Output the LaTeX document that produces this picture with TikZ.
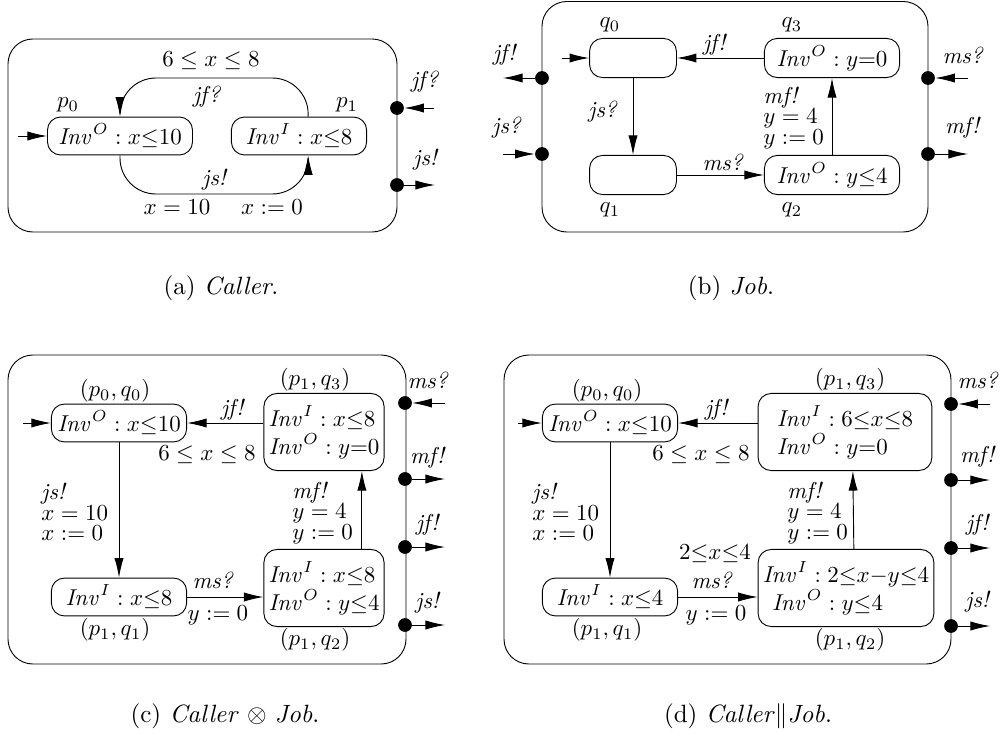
\documentclass[tikz,border=0pt]{standalone}
\usepackage{amssymb}
\usepackage{amsmath}
\usetikzlibrary{arrows.meta}

\begin{document}
\begin{tikzpicture}[x=.0153cm, y=-.0153cm, >={Latex[length=8.5pt,width=4pt]},
location/.style={draw, rounded corners=.2cm, minimum width=2.07cm, minimum height=.58cm, inner sep=1pt},
bigloc/.style={location, minimum height=1.18cm, align=left},
port/.style={inner sep=0, minimum size=.21cm, fill=black, circle},
trans/.style={->},
automaton/.style={rounded corners=.38cm},
lbl/.style={inner sep=0pt},
stack/.style={lbl, anchor=west, align=left},
caption/.style={font=\fontsize{10.9}{13}\selectfont}]
\useasboundingbox (0,0) rectangle (1003,734);

% (a) Caller
\draw[automaton] (8,39) rectangle (397,232);
\node[location, minimum width=2.22cm] (p0) at (120,136) {$\mathit{Inv}^O : x{\leq}10$};
\node[location] (p1) at (299,136) {$\mathit{Inv}^I : x{\leq}8$};
\node[lbl] at (68,105) {$p_0$};
\node[lbl] at (347,105) {$p_1$};
\coordinate (pi) at (18,136);
\coordinate (pt) at (211,78);
\coordinate (pb) at (211,194);
\draw[trans] (pi) -- (p0);
\draw[trans, rounded corners=.55cm] ([xshift=.14cm]p1.north) |- (pt) -| (p0.north);
\draw[trans, rounded corners=.55cm] (p0.south) |- (pb) -| ([xshift=.14cm]p1.south);
\node[lbl] at (211,61) {$6 \leq x \leq 8$};
\node[lbl] at (207,97) {\textit{jf?}};
\node[lbl] at (215,180) {\textit{js!}};
\node[lbl] at (177,207) {$x = 10$};
\node[lbl] at (272,207) {$x := 0$};
\node[port] (a1) at (397,108) {};
\node[port] (a2) at (397,185) {};
\coordinate (a1e) at (434,108);
\coordinate (a2e) at (435,185);
\draw[trans] (a1e) -- (a1);
\draw[trans] (a2) -- (a2e);
\node[lbl] at (425,82) {\textit{jf?}};
\node[lbl] at (426,160) {\textit{js!}};
\node[caption] at (221,288) {(a) \textit{Caller}.};

% (b) Job
\draw[automaton] (542,1.5) rectangle (928,232);
\node[location, minimum width=1.33cm, minimum height=.6cm] (q0) at (633,58) {};
\node[location, minimum height=.6cm] (q3) at (832,58) {$\mathit{Inv}^O : y{=}0$};
\node[location, minimum width=1.33cm, minimum height=.6cm] (q1) at (633,175) {};
\node[location, minimum height=.6cm] (q2) at (832,175) {$\mathit{Inv}^O : y{\leq}4$};
\node[lbl] at (610,25) {$q_0$};
\node[lbl] at (792,25) {$q_3$};
\node[lbl] at (610,210) {$q_1$};
\node[lbl] at (792,210) {$q_2$};
\coordinate (qi) at (562,58);
\draw[trans] (qi) -- (q0);
\draw[trans] (q3) -- (q0);
\draw[trans] (q0) -- (q1);
\draw[trans] (q1) -- (q2);
\draw[trans] (q2) -- (q3);
\node[lbl] at (715,45) {\textit{jf!}};
\node[lbl] at (603,112) {\textit{js?}};
\node[lbl] at (723,162) {\textit{ms?}};
\node[stack] at (763,118) {\textit{mf!}\\[-3pt]$y = 4$\\[-3pt]$y := 0$};
\node[port] (b1) at (542,78) {};
\node[port] (b2) at (542,154) {};
\node[port] (b3) at (928,78) {};
\node[port] (b4) at (928,154) {};
\coordinate (b1e) at (503,78);
\coordinate (b2e) at (503,154);
\coordinate (b3e) at (968,78);
\coordinate (b4e) at (968,154);
\draw[trans] (b1) -- (b1e);
\draw[trans] (b2e) -- (b2);
\draw[trans] (b3e) -- (b3);
\draw[trans] (b4) -- (b4e);
\node[lbl] at (505,55) {\textit{jf!}};
\node[lbl] at (507,128) {\textit{js?}};
\node[lbl] at (963,55) {\textit{ms?}};
\node[lbl] at (963,128) {\textit{mf!}};
\node[caption] at (731,288) {(b) \textit{Job}.};

% (c) Caller x Job
\draw[automaton] (8,355) rectangle (406,664);
\node[location] (c00) at (119,423) {$\mathit{Inv}^O : x{\leq}10$};
\node[bigloc, minimum width=1.84cm] (c13) at (324,432) {$\mathit{Inv}^I : x{\leq}8$\\$\mathit{Inv}^O : y{=}0$};
\node[location] (c11) at (119,597) {$\mathit{Inv}^I : x{\leq}8$};
\node[bigloc, minimum width=1.84cm] (c12) at (324,588) {$\mathit{Inv}^I : x{\leq}8$\\$\mathit{Inv}^O : y{\leq}4$};
\node[lbl] at (115,391) {$(p_0,q_0)$};
\node[lbl] at (315,380) {$(p_1,q_3)$};
\node[lbl] at (115,630) {$(p_1,q_1)$};
\node[lbl] at (315,640) {$(p_1,q_2)$};
\coordinate (ci) at (23,423);
\draw[trans] (ci) -- (c00);
\draw[trans] (c13.west |- c00) -- (c00);
\draw[trans] (c00) -- (c11);
\draw[trans] (c11) -- (c11 -| c12.west);
\draw[trans] ([xshift=.58cm]c12.north) -- ([xshift=.58cm]c13.south);
\node[lbl] at (233,410) {\textit{jf!}};
\node[lbl] at (207,455) {$6 \leq x \leq 8$};
\node[stack] at (41,512) {\textit{js!}\\[-3pt]$x = 10$\\[-3pt]$x := 0$};
\node[lbl] at (213,580) {\textit{ms?}};
\node[lbl] at (218,615) {$y := 0$};
\node[stack] at (292,513) {\textit{mf!}\\[-3pt]$y = 4$\\[-3pt]$y := 0$};
\node[port] (c1) at (405,403) {};
\node[port] (c2) at (405,479) {};
\node[port] (c3) at (405,547) {};
\node[port] (c4) at (405,625) {};
\coordinate (c1e) at (445,403);
\coordinate (c2e) at (445,479);
\coordinate (c3e) at (445,547);
\coordinate (c4e) at (445,625);
\draw[trans] (c1e) -- (c1);
\draw[trans] (c2) -- (c2e);
\draw[trans] (c3) -- (c3e);
\draw[trans] (c4) -- (c4e);
\node[lbl] at (428,380) {\textit{ms?}};
\node[lbl] at (428,458) {\textit{mf!}};
\node[lbl] at (428,525) {\textit{jf!}};
\node[lbl] at (428,603) {\textit{js!}};
\node[caption] at (225,716) {(c) \textit{Caller} $\otimes$ \textit{Job}.};

% (d) Caller || Job
\draw[automaton] (504,355) rectangle (951,664);
\node[location] (d00) at (610,423) {$\mathit{Inv}^O : x{\leq}10$};
\node[bigloc, minimum width=2.66cm] (d13) at (845,432) {$\mathit{Inv}^I : 6{\leq}x{\leq}8$\\$\mathit{Inv}^O : y{=}0$};
\node[location] (d11) at (610,597) {$\mathit{Inv}^I : x{\leq}4$};
\node[bigloc, minimum width=2.69cm] (d12) at (846,588) {$\mathit{Inv}^I : 2{\leq}x{-}y{\leq}4$\\\hspace*{4pt}$\mathit{Inv}^O : y{\leq}4$};
\node[lbl] at (607,391) {$(p_0,q_0)$};
\node[lbl] at (850,380) {$(p_1,q_3)$};
\node[lbl] at (607,630) {$(p_1,q_1)$};
\node[lbl] at (850,640) {$(p_1,q_2)$};
\coordinate (di) at (518,423);
\draw[trans] (di) -- (d00);
\draw[trans] (d13.west |- d00) -- (d00);
\draw[trans] (d00) -- (d11);
\draw[trans] (d11) -- (d11 -| d12.west);
\draw[trans] ([xshift=.12cm]d12.north) -- ([xshift=.12cm]d13.south);
\node[lbl] at (717,410) {\textit{jf!}};
\node[lbl] at (701,455) {$6 \leq x \leq 8$};
\node[stack] at (532,512) {\textit{js!}\\[-3pt]$x = 10$\\[-3pt]$x := 0$};
\node[lbl] at (715,554) {$2{\leq}x{\leq}4$};
\node[lbl] at (712,580) {\textit{ms?}};
\node[lbl] at (716,615) {$y := 0$};
\node[stack] at (787,513) {\textit{mf!}\\[-3pt]$y = 4$\\[-3pt]$y := 0$};
\node[port] (d1) at (951,404) {};
\node[port] (d2) at (951,480) {};
\node[port] (d3) at (951,548) {};
\node[port] (d4) at (951,626) {};
\coordinate (d1e) at (990,404);
\coordinate (d2e) at (990,480);
\coordinate (d3e) at (990,548);
\coordinate (d4e) at (990,626);
\draw[trans] (d1e) -- (d1);
\draw[trans] (d2) -- (d2e);
\draw[trans] (d3) -- (d3e);
\draw[trans] (d4) -- (d4e);
\node[lbl] at (978,380) {\textit{ms?}};
\node[lbl] at (978,457) {\textit{mf!}};
\node[lbl] at (978,525) {\textit{jf!}};
\node[lbl] at (978,602) {\textit{js!}};
\node[caption] at (748,716) {(d) \textit{Caller}$\|$\textit{Job}.};
\end{tikzpicture}
\end{document}
